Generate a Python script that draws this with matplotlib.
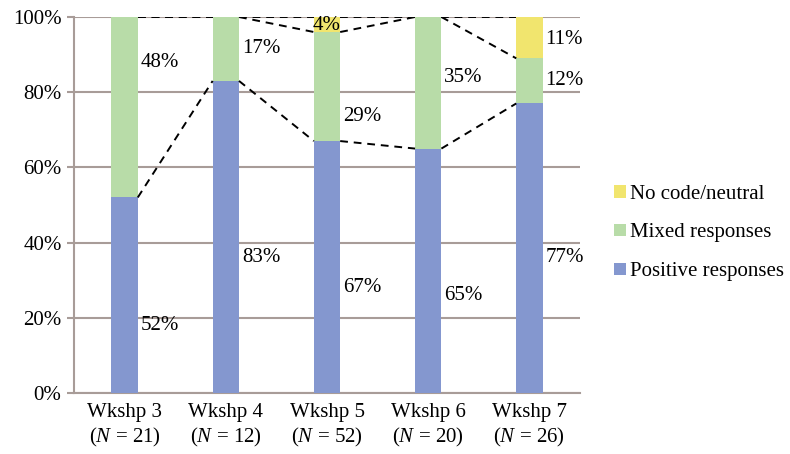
import numpy as np
import matplotlib.pyplot as plt

plt.rcParams['font.family'] = ['Liberation Serif', 'DejaVu Serif']
plt.rcParams['mathtext.fontset'] = 'custom'
plt.rcParams['mathtext.rm'] = 'Liberation Serif'
plt.rcParams['mathtext.it'] = 'Liberation Serif:italic'

# data (percent)
workshops = ['Wkshp 3', 'Wkshp 4', 'Wkshp 5', 'Wkshp 6', 'Wkshp 7']
n_values = [21, 12, 52, 20, 26]
positive = [52, 83, 67, 65, 77]
mixed = [48, 17, 29, 35, 12]
neutral = [0, 0, 4, 0, 11]

series = [('Positive responses', positive, '#8497cf'),
          ('Mixed responses', mixed, '#b8dca8'),
          ('No code/neutral', neutral, '#f1e56e')]

GRID = '#a89c98'
BAR_W = 0.26
FS = 15


def main():
    fig = plt.figure(figsize=(7.9, 4.54), dpi=100)
    ax = fig.add_axes([0.0937, 0.1344, 0.6405, 0.8282])
    x = np.arange(len(workshops))

    bottom = np.zeros(len(workshops))
    tops = []
    for name, vals, color in series:
        vals = np.array(vals, dtype=float)
        ax.bar(x, vals, BAR_W, bottom=bottom, color=color, label=name, zorder=3)
        bottom = bottom + vals
        tops.append(bottom.copy())

    # series lines between bars
    for top in tops:
        for i in range(len(x) - 1):
            ax.plot([x[i] + BAR_W / 2, x[i + 1] - BAR_W / 2], [top[i], top[i + 1]],
                    color='black', ls=(0, (4, 3)), lw=1.4, zorder=4)

    # value labels (hand placed like the original)
    pos_label_y = [18, 36, 28, 26, 36]
    for i, v in enumerate(positive):
        ax.text(x[i] + BAR_W / 2 + 0.03, pos_label_y[i], f'{v}%', fontsize=FS,
                ha='left', va='center', zorder=5)
    mix_label_y = [88, 91.5, 73.5, 84, 83]
    for i, v in enumerate(mixed):
        ax.text(x[i] + BAR_W / 2 + 0.03, mix_label_y[i], f'{v}%', fontsize=FS,
                ha='left', va='center', zorder=5)
    for i, v in enumerate(neutral):
        if v == 0:
            continue
        if v < 6:
            ax.text(x[i], tops[2][i] - v / 2 - 0.3, f'{v}%', fontsize=FS,
                    ha='center', va='center', zorder=5)
        else:
            ax.text(x[i] + BAR_W / 2 + 0.03, 94, f'{v}%', fontsize=FS,
                    ha='left', va='center', zorder=5)

    ax.set_xlim(-0.5, len(x) - 0.5)
    ax.set_ylim(0, 100)
    ax.set_yticks(np.arange(0, 101, 20))
    ax.set_yticklabels([f'{t}%' for t in range(0, 101, 20)], fontsize=FS)
    ax.set_xticks(x)
    ax.set_xticklabels([f'{w}\n($\\it{{N}}$ = {n})' for w, n in zip(workshops, n_values)],
                       fontsize=FS, linespacing=1.25)
    ax.yaxis.grid(True, color=GRID, lw=1.5, zorder=0)
    ax.tick_params(axis='y', length=5, color=GRID, width=1.5, pad=4)
    ax.tick_params(axis='x', length=0, pad=7)
    for side in ['top', 'right']:
        ax.spines[side].set_visible(False)
    ax.spines['left'].set_color(GRID)
    ax.spines['left'].set_linewidth(1.5)
    ax.spines['bottom'].set_color(GRID)
    ax.spines['bottom'].set_linewidth(1.5)

    handles, labels = ax.get_legend_handles_labels()
    fig.legend(handles[::-1], labels[::-1], loc='center left',
               bbox_to_anchor=(0.767, 0.487), frameon=False, fontsize=FS,
               handlelength=0.55, handleheight=0.55, handletextpad=0.2,
               labelspacing=0.95, borderaxespad=0)

    fig.savefig('out.png', dpi=100)


if __name__ == '__main__':
    main()
